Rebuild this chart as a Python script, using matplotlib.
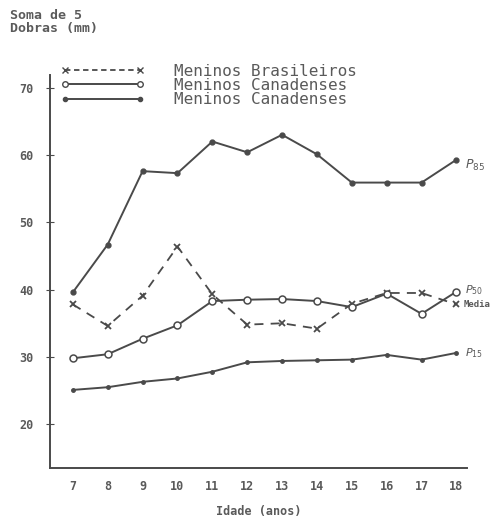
import matplotlib
matplotlib.use("Agg")
import matplotlib.pyplot as plt
from matplotlib.lines import Line2D

# dados ------------------------------------------------------------------
idade = [7, 8, 9, 10, 11, 12, 13, 14, 15, 16, 17, 18]
p85 = [39.6, 46.7, 57.6, 57.3, 62.0, 60.4, 63.0, 60.1, 55.9, 55.9, 55.9, 59.3]
brasil = [37.8, 34.6, 39.1, 46.4, 39.3, 34.8, 35.0, 34.2, 37.9, 39.5, 39.5, 37.8]
p50 = [29.8, 30.4, 32.7, 34.7, 38.3, 38.5, 38.6, 38.3, 37.4, 39.4, 36.4, 39.7]
p15 = [25.1, 25.5, 26.3, 26.8, 27.8, 29.2, 29.4, 29.5, 29.6, 30.3, 29.6, 30.6]
yticks = [20, 30, 40, 50, 60, 70]
legend_labels = ["Meninos Brasileiros", "Meninos Canadenses", "Meninos Canadenses"]

ink = "#4a4a4a"
txt = "#5a5a5a"
mono = "DejaVu Sans Mono"

fig = plt.figure(figsize=(4.92, 5.2), dpi=100)
ax = fig.add_axes([0.102, 0.10, 0.847, 0.756])

ax.plot(idade, p85, color=ink, lw=1.4, marker="o", ms=3.5)
ax.plot(idade, brasil, color=ink, lw=1.3, ls=(0, (5, 4)), marker="x", ms=4, mew=1.3)
ax.plot(idade, p50, color=ink, lw=1.4, marker="o", ms=5, mfc="white", mew=1.1)
ax.plot(idade, p15, color=ink, lw=1.4, marker="o", ms=2.5)

# rótulos à direita
ax.annotate("$P_{85}$", xy=(idade[-1], p85[-1]), xytext=(6, -4),
            textcoords="offset points", color=txt, fontsize=9, va="center")
ax.annotate("$P_{50}$", xy=(idade[-1], p50[-1]), xytext=(6, 1),
            textcoords="offset points", color=txt, fontsize=8, va="center")
ax.annotate("Media", xy=(idade[-1], brasil[-1]), xytext=(5, 0),
            textcoords="offset points", color=txt, fontsize=6.5, va="center",
            family=mono, fontweight="bold")
ax.annotate("$P_{15}$", xy=(idade[-1], p15[-1]), xytext=(6, 0),
            textcoords="offset points", color=txt, fontsize=8, va="center")

ax.set_xlim(6.35, 18.3)
ax.set_ylim(13.5, 71.9)
ax.set_xticks(idade)
ax.set_yticks(yticks)
for s in ["top", "right"]:
    ax.spines[s].set_visible(False)
for s in ["left", "bottom"]:
    ax.spines[s].set_color(ink)
    ax.spines[s].set_linewidth(1.4)
ax.tick_params(axis="y", direction="inout", length=6, color=ink, labelcolor=txt,
               labelsize=8.5, pad=9)
ax.tick_params(axis="x", length=0, labelcolor=txt, labelsize=8.5, pad=9)
for lab in ax.get_xticklabels() + ax.get_yticklabels():
    lab.set_family(mono)
    lab.set_fontweight("bold")

ax.set_xlabel("Idade (anos)", family=mono, fontweight="bold", color=txt,
              fontsize=8.5, labelpad=8)
fig.text(0.02, 0.982, "Soma de 5\nDobras (mm)", family=mono, fontweight="bold",
         color=txt, fontsize=9.5, va="top", linespacing=1.0)

handles = [
    Line2D([], [], color=ink, lw=1.3, ls=(0, (3, 2)), marker="x", ms=4,
           markevery=[0, -1]),
    Line2D([], [], color=ink, lw=1.4, marker="o", ms=4, mfc="white",
           markevery=[0, -1]),
    Line2D([], [], color=ink, lw=1.4, marker="o", ms=3, markevery=[0, -1]),
]
leg = ax.legend(handles, legend_labels, loc="upper left",
                bbox_to_anchor=(-0.01, 1.065), frameon=False,
                handlelength=5.3, handletextpad=1.8, labelspacing=-0.05,
                prop={"family": mono, "size": 11.5}, numpoints=2)
for t in leg.get_texts():
    t.set_color(txt)

fig.savefig("out.png", dpi=100)
